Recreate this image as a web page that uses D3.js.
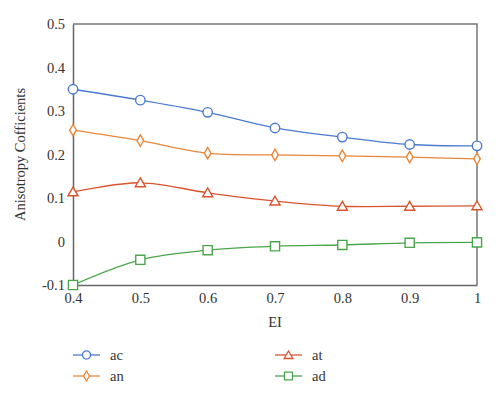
<!DOCTYPE html>
<html>
<head>
<meta charset="utf-8">
<script src="https://cdn.jsdelivr.net/npm/d3@7"></script>
<style>
  body { margin: 0; background: #fff; }
  svg text { font-family: "Liberation Serif", "DejaVu Serif", serif; fill: #333; }
</style>
</head>
<body>
<svg id="chart" width="500" height="398"></svg>
<script>
    // ============ DATA =================
    var eiValues = [0.4, 0.5, 0.6, 0.7, 0.8, 0.9, 1];
    var acValues = [0.350, 0.325, 0.297, 0.261, 0.240, 0.223, 0.220];
    var anValues = [0.256, 0.232, 0.203, 0.199, 0.197, 0.194, 0.190];
    var atValues = [0.114, 0.135, 0.112, 0.093, 0.081, 0.081, 0.082];
    var adValues = [-0.100, -0.042, -0.020, -0.011, -0.008, -0.003, -0.002];
    var xTicks = [0.4, 0.5, 0.6, 0.7, 0.8, 0.9, 1];
    var yTicks = [-0.1, 0, 0.1, 0.2, 0.3, 0.4, 0.5];

    var series = [
        {label: "ac", values: acValues, color: "#4a7bd0", symbol: d3.symbolCircle, size: 70},
        {label: "an", values: anValues, color: "#e8873a", symbol: d3.symbolDiamond, size: 38},
        {label: "at", values: atValues, color: "#d9542e", symbol: d3.symbolTriangle, size: 44},
        {label: "ad", values: adValues, color: "#4aa64a", symbol: d3.symbolSquare, size: 84}
    ];

    var margin = {top: 24, right: 23, bottom: 113, left: 73};
    var width = 500 - margin.left - margin.right;
    var height = 398 - margin.top - margin.bottom;
    var fontSize = 14.5;

    // plain hyphen for negatives, like the original
    function fmt(d) {
        if (d === 0) return "0";
        if (d === 1) return "1";
        return d3.format(".1f")(d).replace("\u2212", "-");
    }

    var svg = d3.select("#chart")
        .append("g")
        .attr("transform", "translate(" + margin.left + "," + margin.top + ")");

    var xScale = d3.scaleLinear().domain([0.4, 1]).range([0, width]);
    var yScale = d3.scaleLinear().domain([-0.1, 0.5]).range([height, 0]);

    // frame (top and right edges)
    svg.append("path")
        .attr("d", "M0,0H" + width + "V" + height)
        .attr("fill", "none")
        .attr("stroke", "#777")
        .attr("stroke-width", 1.5);

    var xAxis = svg.append("g")
        .attr("transform", "translate(0," + height + ")")
        .call(d3.axisBottom(xScale).tickValues(xTicks).tickSize(0).tickPadding(8).tickFormat(fmt));

    var yAxis = svg.append("g")
        .call(d3.axisLeft(yScale).tickValues(yTicks).tickSize(0).tickPadding(8).tickFormat(fmt));

    [xAxis, yAxis].forEach(function (ax) {
        ax.select(".domain").attr("stroke", "#666").attr("stroke-width", 1.5);
        ax.selectAll("text").attr("font-size", fontSize).attr("fill", "#333")
            .style("font-family", "'Liberation Serif', serif");
    });

    svg.append("text")
        .attr("x", width / 2)
        .attr("y", height + 42)
        .attr("text-anchor", "middle")
        .attr("font-size", fontSize)
        .text("EI");

    svg.append("text")
        .attr("transform", "translate(-48," + (height / 2) + ") rotate(-90)")
        .attr("text-anchor", "middle")
        .attr("font-size", fontSize)
        .text("Anisotropy Cofficients");

    var line = d3.line()
        .x(function (d, i) { return xScale(eiValues[i]); })
        .y(function (d) { return yScale(d); })
        .curve(d3.curveCatmullRom.alpha(0.5));

    series.forEach(function (s) {
        svg.append("path")
            .datum(s.values)
            .attr("d", line)
            .attr("fill", "none")
            .attr("stroke", s.color)
            .attr("stroke-width", 1.3);

        var sym = d3.symbol().type(s.symbol).size(s.size);
        svg.selectAll(null)
            .data(s.values)
            .enter().append("path")
            .attr("d", sym)
            .attr("transform", function (d, i) {
                var dy = s.symbol === d3.symbolTriangle ? 1 : 0;
                return "translate(" + xScale(eiValues[i]) + "," + (yScale(d) + dy) + ")";
            })
            .attr("fill", "#fff")
            .attr("stroke", s.color)
            .attr("stroke-width", 1.4);
    });

    // ============ LEGEND =================
    var legend = d3.select("#chart").append("g");
    var legendPos = [[73, 355], [73, 376], [275, 355], [275, 376]];
    series.forEach(function (s, i) {
        var g = legend.append("g")
            .attr("transform", "translate(" + legendPos[i][0] + "," + legendPos[i][1] + ")");
        g.append("line")
            .attr("x1", 0).attr("x2", 27)
            .attr("stroke", s.color).attr("stroke-width", 1.3);
        g.append("path")
            .attr("d", d3.symbol().type(s.symbol).size(s.size * 0.75))
            .attr("transform", "translate(13.5," + (s.symbol === d3.symbolTriangle ? 1 : 0) + ")")
            .attr("fill", "#fff")
            .attr("stroke", s.color)
            .attr("stroke-width", 1.3);
        g.append("text")
            .attr("x", 37)
            .attr("y", 5)
            .attr("font-size", fontSize)
            .text(s.label);
    });
</script>
</body>
</html>
